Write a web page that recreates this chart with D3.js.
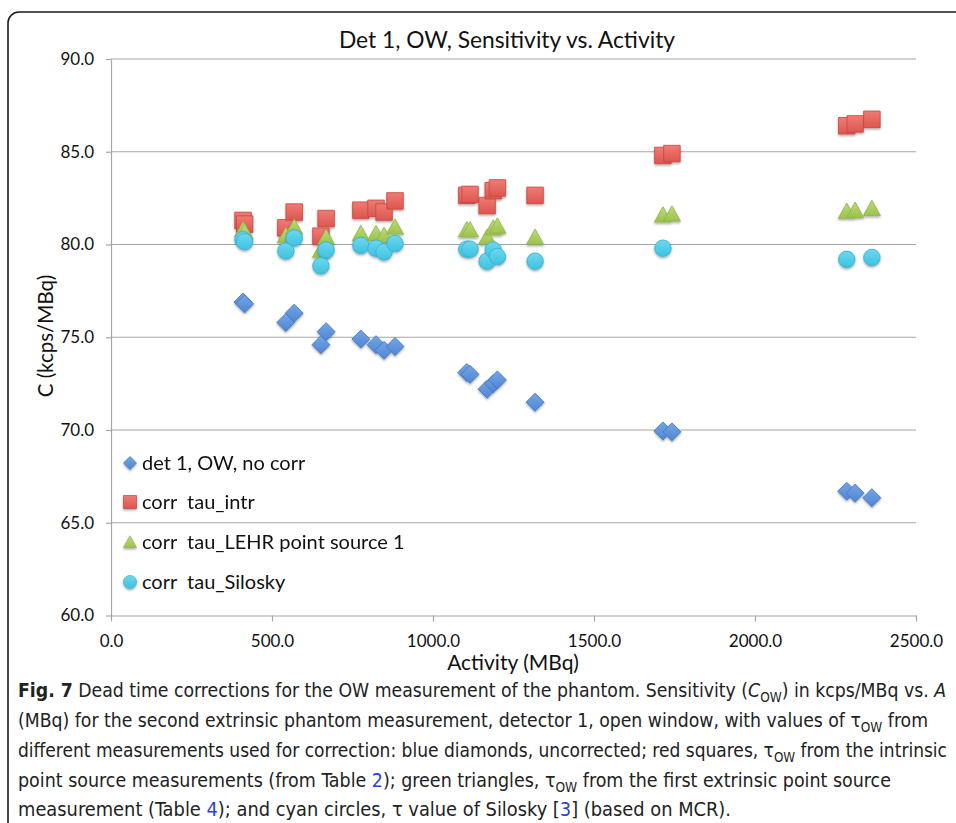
<!DOCTYPE html>
<html>
<head>
<meta charset="utf-8">
<script src="https://cdn.jsdelivr.net/npm/d3@7"></script>
<style>
  html, body { margin: 0; padding: 0; background: #fff; }
  svg { display: block; }
</style>
</head>
<body>
<svg id="chart" width="956" height="823"></svg>
<script>
// ---- data ----
const activity   = [410, 415, 543, 569, 652, 668, 776, 823, 848, 882, 1105, 1115, 1168, 1187, 1200, 1317, 1714, 1742, 2285, 2311, 2363];
const noCorr     = [76.9, 76.8, 75.8, 76.3, 74.6, 75.3, 74.9, 74.6, 74.3, 74.5, 73.1, 73.0, 72.2, 72.5, 72.7, 71.5, 69.95, 69.9, 66.7, 66.6, 66.35];
const tauIntr    = [81.3, 81.1, 80.9, 81.75, 80.45, 81.4, 81.85, 81.95, 81.75, 82.35, 82.65, 82.7, 82.1, 82.9, 83.05, 82.65, 84.8, 84.9, 86.4, 86.5, 86.75];
const tauLEHR    = [80.8, 80.7, 80.5, 80.95, 79.7, 80.4, 80.6, 80.6, 80.5, 80.95, 80.8, 80.8, 80.4, 80.9, 81.0, 80.4, 81.6, 81.65, 81.8, 81.85, 81.95];
const tauSilosky = [80.25, 80.15, 79.65, 80.35, 78.85, 79.7, 79.95, 79.8, 79.6, 80.05, 79.75, 79.75, 79.1, 79.7, 79.35, 79.1, 79.8, null, 79.2, null, 79.3];

const seriesNames = ["det 1, OW, no corr", "corr  tau_intr", "corr  tau_LEHR point source 1", "corr  tau_Silosky"];
const yTicks = [60, 65, 70, 75, 80, 85, 90];
const xTicks = [0, 500, 1000, 1500, 2000, 2500];
const chartTitle = "Det 1, OW, Sensitivity vs. Activity";
const xTitle = "Activity (MBq)";
const yTitle = "C (kcps/MBq)";

// ---- drawing ----
const svg = d3.select("#chart");
const chartFont = "Lato, 'Open Sans', sans-serif";
const capFont = "'DejaVu Sans Condensed', Roboto, sans-serif";

const x = d3.scaleLinear().domain([0, 2500]).range([111, 916]);
const y = d3.scaleLinear().domain([60, 90]).range([615.5, 59]);

// defs: gradients + shadow
const defs = svg.append("defs");
function grad(id, c1, c2) {
  const g = defs.append("linearGradient").attr("id", id).attr("x1", 0).attr("y1", 0).attr("x2", 0).attr("y2", 1);
  g.append("stop").attr("offset", "0%").attr("stop-color", c1);
  g.append("stop").attr("offset", "100%").attr("stop-color", c2);
}
grad("gBlue", "#74a6e6", "#4f86d2");
grad("gRed", "#f07b74", "#dc5650");
grad("gGreen", "#bcdc74", "#9cc250");
grad("gCyan", "#6dd8ef", "#3ec1df");
const f = defs.append("filter").attr("id", "sh").attr("x", "-50%").attr("y", "-50%").attr("width", "200%").attr("height", "200%");
f.append("feDropShadow").attr("dx", 0).attr("dy", 1.5).attr("stdDeviation", 1.2).attr("flood-color", "#000").attr("flood-opacity", 0.35);

// frame
svg.append("rect").attr("x", 8).attr("y", 12).attr("width", 1000).attr("height", 900)
  .attr("rx", 11).attr("fill", "none").attr("stroke", "#1a1a1a").attr("stroke-width", 1.6);

// title
svg.append("text").attr("x", 507).attr("y", 48).attr("text-anchor", "middle")
  .attr("font-family", chartFont).attr("font-size", 22.8).attr("fill", "#111").text(chartTitle);

// gridlines
svg.append("g").selectAll("line").data(yTicks.filter(d => d > 60)).join("line")
  .attr("x1", x(0)).attr("x2", x(2500)).attr("y1", d => y(d)).attr("y2", d => y(d))
  .attr("stroke", "#a6a6a6").attr("stroke-width", 1.2);

// axes
const yAxis = svg.append("g").attr("transform", `translate(${x(0)},0)`)
  .call(d3.axisLeft(y).tickValues(yTicks).tickFormat(d3.format(".1f")).tickSize(5).tickPadding(12).tickSizeOuter(0));
const xAxis = svg.append("g").attr("transform", `translate(0,${y(60)})`)
  .call(d3.axisBottom(x).tickValues(xTicks).tickFormat(d3.format(".1f")).tickSize(6).tickPadding(13).tickSizeOuter(0));
[yAxis, xAxis].forEach(a => {
  a.select(".domain").attr("stroke", "#a6a6a6").attr("stroke-width", 1.2);
  a.selectAll(".tick line").attr("stroke", "#a6a6a6").attr("stroke-width", 1.2);
  a.selectAll("text").attr("font-family", chartFont).attr("font-size", 17).attr("fill", "#111");
});

// axis titles
svg.append("text").attr("x", 513).attr("y", 670).attr("text-anchor", "middle")
  .attr("font-family", chartFont).attr("font-size", 21).attr("fill", "#111").text(xTitle);
svg.append("text").attr("transform", "translate(53,336) rotate(-90)").attr("text-anchor", "middle")
  .attr("font-family", chartFont).attr("font-size", 20.5).attr("fill", "#111").text(yTitle);

// marker shapes
function markerPath(type, s) {
  const h = s / 2;
  if (type === "diamond") return `M0,${-h}L${h},0L0,${h}L${-h},0Z`;
  if (type === "square") return `M${-h},${-h}H${h}V${h}H${-h}Z`;
  if (type === "triangle") return `M0,${-h * 0.95}L${h},${h * 0.85}L${-h},${h * 0.85}Z`;
  return d3.symbol(d3.symbolCircle, Math.PI * h * h)();
}
const series = [
  { name: seriesNames[0], values: noCorr, type: "diamond", fill: "url(#gBlue)", stroke: "#3f74bf", size: 18, lsize: 13 },
  { name: seriesNames[1], values: tauIntr, type: "square", fill: "url(#gRed)", stroke: "#c4463f", size: 16.5, lsize: 13 },
  { name: seriesNames[2], values: tauLEHR, type: "triangle", fill: "url(#gGreen)", stroke: "#8fb545", size: 17, lsize: 13 },
  { name: seriesNames[3], values: tauSilosky, type: "circle", fill: "url(#gCyan)", stroke: "#2eb0d0", size: 16.5, lsize: 13 }
];

series.forEach(s => {
  const pts = activity.map((a, i) => ({ a, v: s.values[i] })).filter(d => d.v != null);
  svg.append("g").attr("filter", "url(#sh)").selectAll("path").data(pts).join("path")
    .attr("transform", d => `translate(${x(d.a)},${y(d.v)})`)
    .attr("d", markerPath(s.type, s.size))
    .attr("fill", s.fill).attr("stroke", s.stroke).attr("stroke-width", 0.8);
});

// legend
const legRows = [463, 502, 542, 582];
const leg = svg.append("g");
series.forEach((s, i) => {
  leg.append("path").attr("transform", `translate(130,${legRows[i]})`)
    .attr("d", markerPath(s.type, s.lsize)).attr("fill", s.fill).attr("stroke", s.stroke).attr("stroke-width", 0.7)
    .attr("filter", "url(#sh)");
  leg.append("text").attr("x", 142).attr("y", legRows[i] + 7)
    .attr("font-family", chartFont).attr("font-size", 20).attr("fill", "#111")
    .attr("xml:space", "preserve").style("white-space", "pre").text(s.name);
});

// caption
const capLines = [
  [["b", "Fig. 7"], ["t", " Dead time corrections for the OW measurement of the phantom. Sensitivity ("], ["i", "C"], ["sub", "OW"], ["t", ") in kcps/MBq vs. "], ["i", "A"]],
  [["t", "(MBq) for the second extrinsic phantom measurement, detector 1, open window, with values of τ"], ["sub", "OW"], ["t", " from"]],
  [["t", "different measurements used for correction: blue diamonds, uncorrected; red squares, τ"], ["sub", "OW"], ["t", " from the intrinsic"]],
  [["t", "point source measurements (from Table "], ["l", "2"], ["t", "); green triangles, τ"], ["sub", "OW"], ["t", " from the first extrinsic point source"]],
  [["t", "measurement (Table "], ["l", "4"], ["t", "); and cyan circles, τ value of Silosky ["], ["l", "3"], ["t", "] (based on MCR)."]]
];
const capY = [697, 727, 757, 787, 816];
const capW = [928, 910, 929, 873, 713];
capLines.forEach((line, li) => {
  const t = svg.append("text").attr("x", 18).attr("y", capY[li])
    .attr("font-family", capFont).attr("font-size", 20).attr("fill", "#222")
    .attr("textLength", capW[li]).attr("lengthAdjust", "spacingAndGlyphs");
  let subbed = false;
  line.forEach(([k, s]) => {
    const ts = t.append("tspan").text(s);
    if (k === "b") ts.attr("font-weight", "bold");
    if (k === "i") ts.attr("font-style", "italic");
    if (k === "l") ts.attr("fill", "#2a3fd6");
    if (k === "sub") { ts.attr("font-size", 14).attr("dy", 5); subbed = true; }
    else if (subbed) { ts.attr("dy", -5); subbed = false; }
  });
});
</script>
</body>
</html>
